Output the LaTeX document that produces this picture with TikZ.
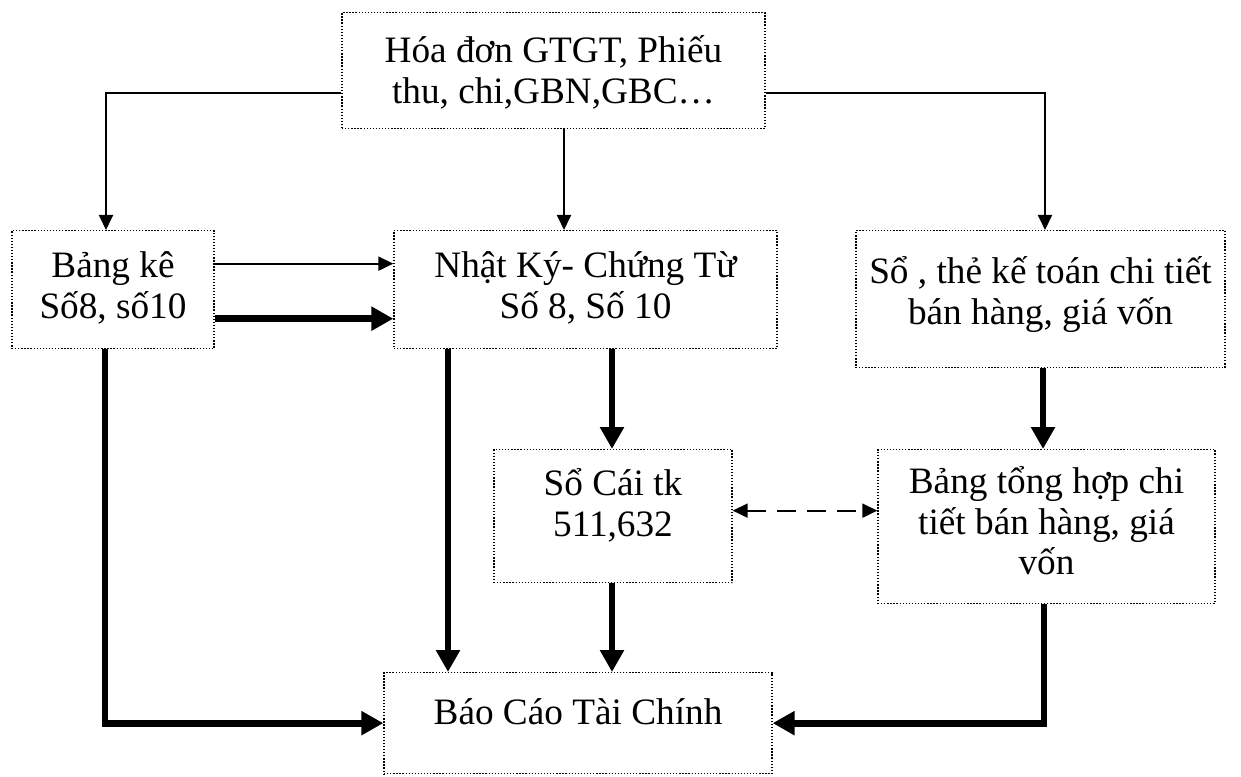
\documentclass[tikz,border=0pt]{standalone}
\usepackage{fontspec}
\setmainfont{Liberation Serif}
\usepackage{tikz}
\usetikzlibrary{arrows.meta}

\begin{document}
\begin{tikzpicture}[
    box/.style={draw, densely dotted, line width=0.75pt, align=center, anchor=north,
        inner xsep=0pt, inner ysep=0pt, font={\fontsize{21.2}{23}\selectfont}},
    thinarrow/.style={line width=1.1pt, -{Triangle[length=0.3cm, width=0.28cm]}},
    thickarrow/.style={line width=3.8pt, -{Triangle[length=0.44cm, width=0.46cm]}},
    dasharrow/.style={line width=1.1pt, dash pattern=on 0.38cm off 0.22cm,
        {Triangle[length=0.3cm, width=0.28cm]}-{Triangle[length=0.3cm, width=0.28cm]}}]
        \useasboundingbox (0,0) rectangle (24.82,15.52);
        % Chung tu goc
        \node[box, minimum width=8.46cm, text height=1.81cm, text depth=0.51cm] (chungtu) at (11.07,15.28)
            {Hóa đơn GTGT, Phiếu\\thu, chi,GBN,GBC…};
        % Bang ke, nhat ky, so chi tiet
        \node[box, minimum width=4.04cm, text height=1.75cm, text depth=0.61cm] (bangke) at (2.26,10.92)
            {Bảng kê\\Số8, số10};
        \node[box, minimum width=7.66cm, text height=1.75cm, text depth=0.61cm] (nhatky) at (11.71,10.92)
            {Nhật Ký- Chứng Từ\\Số 8, Số 10};
        \node[box, minimum width=7.38cm, text height=1.87cm, text depth=0.87cm] (sothe) at (20.81,10.92)
            {Sổ , thẻ kế toán chi tiết\\bán hàng, giá vốn};
        % So cai, bang tong hop
        \node[box, minimum width=4.76cm, text height=1.73cm, text depth=0.93cm] (socai) at (12.26,6.54)
            {Sổ Cái tk\\511,632};
        \node[box, minimum width=6.74cm, text height=2.5cm, text depth=0.58cm] (tonghop) at (20.93,6.54)
            {Bảng tổng hợp chi\\tiết bán hàng, giá\\vốn};
        % Bao cao
        \node[box, minimum width=7.76cm, text height=1.04cm, text depth=0.98cm] (baocao) at (11.56,2.08)
            {Báo Cáo Tài Chính};
        % Fleches fines
        \draw[thinarrow] ([yshift=-0.44cm]chungtu.west) -| ([xshift=-0.14cm]bangke.north);
        \draw[thinarrow] ([xshift=0.21cm]chungtu.south) -- ([xshift=0.21cm]chungtu.south |- nhatky.north);
        \draw[thinarrow] ([yshift=-0.44cm]chungtu.east) -| ([xshift=0.09cm]sothe.north);
        \draw[thinarrow] ([yshift=0.52cm]bangke.east) -- ([yshift=0.52cm]bangke.east -| nhatky.west);
        % Fleches epaisses
        \draw[thickarrow] ([yshift=-0.58cm]bangke.east) -- ([yshift=-0.58cm]bangke.east -| nhatky.west);
        \draw[thickarrow] ([xshift=-0.16cm]bangke.south) |- (baocao.west);
        \draw[thickarrow] ([xshift=-2.75cm]nhatky.south) -- ([xshift=-2.75cm]nhatky.south |- baocao.north);
        \draw[thickarrow] ([xshift=-0.02cm]socai.north |- nhatky.south) -- ([xshift=-0.02cm]socai.north);
        \draw[thickarrow] ([xshift=-0.02cm]socai.south) -- ([xshift=-0.02cm]socai.south |- baocao.north);
        \draw[thickarrow] ([xshift=0.05cm]sothe.south) -- ([xshift=0.05cm]sothe.south |- tonghop.north);
        \draw[thickarrow] ([xshift=-0.05cm]tonghop.south) |- (baocao.east);
        % Doi chieu
        \draw[dasharrow] ([yshift=0.11cm]socai.east) -- ([yshift=0.11cm]socai.east -| tonghop.west);
\end{tikzpicture}
\end{document}
